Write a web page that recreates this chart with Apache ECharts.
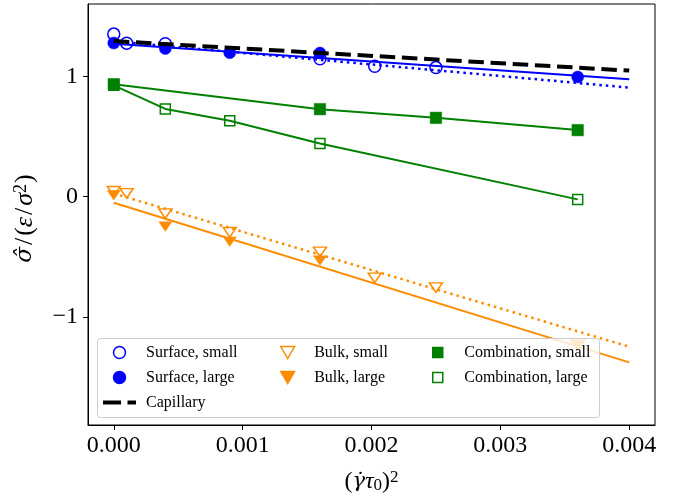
<!DOCTYPE html>
<html>
<head>
<meta charset="utf-8">
<script src="https://cdn.jsdelivr.net/npm/echarts@6/dist/echarts.min.js"></script>
<style>html,body{margin:0;padding:0;background:#fff}#c{width:684px;height:499px}</style>
</head>
<body>
<div id="c"></div>
<script>
// ---- data ----
const xTicks = [0, 0.001, 0.002, 0.003, 0.004];
const yTicks = [-1, 0, 1];

const surfaceSmall = [[0,1.35],[0.0001,1.275],[0.0004,1.27],[0.0016,1.146],[0.002025,1.083],[0.0025,1.072]];
const surfaceLarge = [[0,1.276],[0.0004,1.23],[0.0009,1.196],[0.0016,1.193],[0.0036,0.994]];
const bulkSmall = [[0,0.045],[0.0001,0.028],[0.0004,-0.14],[0.0009,-0.295],[0.0016,-0.458],[0.002025,-0.674],[0.0025,-0.755],[0.0036,-1.23]];
const bulkLarge = [[0,0.012],[0.0004,-0.248],[0.0009,-0.373],[0.0016,-0.53],[0.0036,-1.235]];
const combinationSmall = [[0,0.934],[0.0016,0.727],[0.0025,0.655],[0.0036,0.553]];
const combinationLarge = [[0,0.925],[0.0004,0.729],[0.0009,0.63],[0.0016,0.442],[0.0036,-0.022]];

const surfaceSmallFit = [[0,1.29],[0.004,0.906]];
const surfaceLargeFit = [[0,1.27],[0.004,0.975]];
const bulkSmallFit = [[0,0.027],[0.004,-1.245]];
const bulkLargeFit = [[0,-0.05],[0.004,-1.375]];
const capillary = [[0,1.292],[0.004,1.047]];

// ---- styling ----
const FONT = 'Liberation Serif';
const BLUE = '#0000ff', ORANGE = '#ff8c00', GREEN = '#008000';
const NONE = 'rgba(0,0,0,0)';
const TRI = 'path://M0,0L12,0L6,10.4Z';
const SQ = 'path://M0,0L10,0L10,10L0,10Z';
const DASH_ICON = 'path://M0,0L18,0L18,4L0,4ZM24.5,0L33,0L33,4L24.5,4Z';

function fitLine(data, color, type, width) {
  return { type: 'line', data: data, symbol: 'none', silent: true, z: 2,
    lineStyle: { color: color, width: width || 2, type: type } };
}
function scatter(name, data, symbol, size, color, open, z) {
  return { name: name, type: 'scatter', data: data, symbol: symbol, symbolSize: size,
    symbolKeepAspect: true, z: z || 3,
    itemStyle: { color: open ? NONE : color, borderColor: color, borderWidth: open ? 1.5 : 0.5, opacity: 1 } };
}

const chart = echarts.init(document.getElementById('c'), null, { renderer: 'canvas' });
const legendBase = {
  orient: 'vertical', itemWidth: 33, itemGap: 9, z: 20, top: 344.5, padding: 0,
  symbolKeepAspect: true,
  textStyle: { fontFamily: FONT, fontSize: 16, color: '#000', lineHeight: 16, padding: [0,0,0,5] },
  itemStyle: { borderWidth: 1.5 }
};
chart.setOption({
  animation: false,
  backgroundColor: '#fff',
  grid: { left: 88, right: 29, top: 4, bottom: 73, show: true, borderColor: '#000', borderWidth: 1, containLabel: false },
  xAxis: {
    type: 'value', min: -0.0002, max: 0.0042,
    splitLine: { show: false },
    axisLine: { show: true, onZero: false, lineStyle: { color: '#000', width: 1 } },
    axisTick: { show: true, customValues: xTicks, length: 5, lineStyle: { color: '#000' } },
    axisLabel: { customValues: xTicks, formatter: v => v.toFixed(3), fontFamily: FONT, fontSize: 24, color: '#000', margin: 9 },
    name: '({a|γ\u0307}{i|τ}{sub|0}){sup|2}', nameLocation: 'middle', nameGap: 44,
    nameTextStyle: { fontFamily: FONT, fontSize: 24, color: '#000',
      rich: { i: { fontFamily: FONT, fontSize: 24, fontStyle: 'italic' },
              a: { fontFamily: 'DejaVu Serif', fontSize: 21, fontStyle: 'italic' },
              sub: { fontFamily: FONT, fontSize: 17, verticalAlign: 'bottom', padding: [6,0,0,0] },
              sup: { fontFamily: FONT, fontSize: 17, verticalAlign: 'top', padding: [0,0,8,0] } } }
  },
  yAxis: {
    type: 'value', min: -1.895, max: 1.6,
    splitLine: { show: false },
    axisLine: { show: true, onZero: false, lineStyle: { color: '#000', width: 1 } },
    axisTick: { show: true, customValues: yTicks, length: 5, lineStyle: { color: '#000' } },
    axisLabel: { customValues: yTicks, formatter: v => v < 0 ? '\u2212' + Math.abs(v) : String(v), fontFamily: FONT, fontSize: 24, color: '#000', margin: 10 },
    name: '{a|σ\u0302}{s|/}({i|ε}{s|/}{i|σ}{sup|2})', nameLocation: 'middle', nameGap: 50, nameRotate: 90,
    nameTextStyle: { fontFamily: FONT, fontSize: 26, color: '#000', padding: [0, 8, 0, 0],
      rich: { i: { fontFamily: FONT, fontSize: 26, fontStyle: 'italic' },
              s: { fontFamily: FONT, fontSize: 26, padding: [0, 2, 0, 2] },
              a: { fontFamily: 'DejaVu Serif', fontSize: 23, fontStyle: 'italic' },
              sup: { fontFamily: FONT, fontSize: 18, verticalAlign: 'top', padding: [0,1,8,0] } } }
  },
  legend: [
    Object.assign({}, legendBase, { left: 103, itemHeight: 12,
      data: ['Surface, small', 'Surface, large', { name: 'Capillary', icon: DASH_ICON, itemStyle: { borderWidth: 0 } }] }),
    Object.assign({}, legendBase, { left: 280, itemHeight: 12, data: ['Bulk, small', 'Bulk, large'] }),
    Object.assign({}, legendBase, { left: 432, itemHeight: 10, data: ['Combination, small', 'Combination, large'] })
  ],
  graphic: [{
    type: 'rect', z: 10, silent: true,
    shape: { x: 97.5, y: 338.5, width: 502, height: 79, r: 3 },
    style: { fill: 'rgba(255,255,255,0.8)', stroke: '#cccccc', lineWidth: 1 }
  }],
  series: [
    fitLine(surfaceSmallFit, BLUE, [2.5, 4], 2.5),
    fitLine(surfaceLargeFit, BLUE, 'solid', 2),
    fitLine(bulkSmallFit, ORANGE, [2.5, 4], 2.5),
    fitLine(bulkLargeFit, ORANGE, 'solid', 2),
    { type: 'line', data: combinationSmall, symbol: 'none', silent: true, z: 2, lineStyle: { color: GREEN, width: 2 } },
    { type: 'line', data: combinationLarge, symbol: 'none', silent: true, z: 2, lineStyle: { color: GREEN, width: 2 } },
    scatter('Surface, small', surfaceSmall, 'circle', 12, BLUE, true),
    scatter('Surface, large', surfaceLarge, 'circle', 12, BLUE, false),
    scatter('Bulk, small', bulkSmall, TRI, [13, 11], ORANGE, true),
    scatter('Bulk, large', bulkLarge, TRI, [13, 11], ORANGE, false),
    scatter('Combination, large', combinationLarge, SQ, 10, GREEN, true),
    scatter('Combination, small', combinationSmall, SQ, 11.5, GREEN, false),
    { name: 'Capillary', type: 'line', data: capillary, symbol: 'none', z: 4,
      lineStyle: { color: '#000', width: 4, type: [15.5, 6.7] }, itemStyle: { color: '#000', borderColor: '#000' } }
  ]
});
</script>
</body>
</html>
